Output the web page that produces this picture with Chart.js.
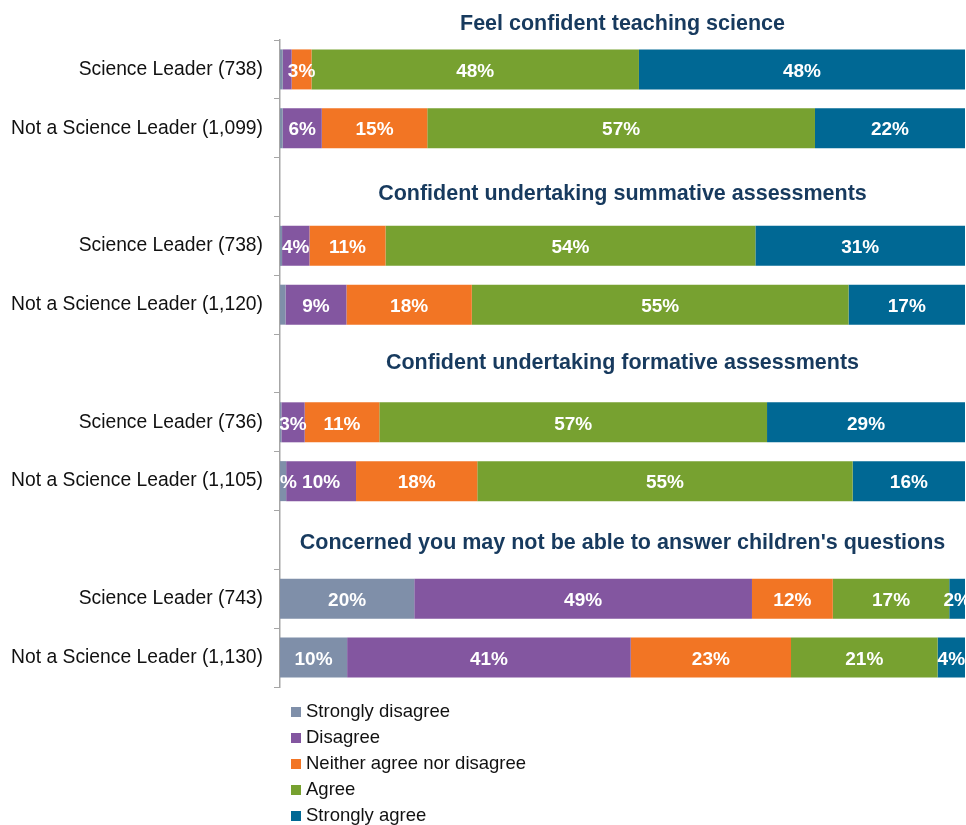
<!DOCTYPE html>
<html>
<head>
<meta charset="utf-8">
<script src="https://cdn.jsdelivr.net/npm/chart.js@4/dist/chart.umd.min.js"></script>
<style>
  html, body { margin: 0; padding: 0; background: #fff; }
  #wrap { position: relative; width: 966px; height: 825px; }
</style>
</head>
<body>
<div id="wrap"><canvas id="myBarChart"></canvas></div>
<script>
// rows of the chart; '' rows are the gaps that hold the section headings
const categories = [
  'Science Leader (738)', 'Not a Science Leader (1,099)', '',
  'Science Leader (738)', 'Not a Science Leader (1,120)', '',
  'Science Leader (736)', 'Not a Science Leader (1,105)', '',
  'Science Leader (743)', 'Not a Science Leader (1,130)'
];
const headings = [
  'Feel confident teaching science',
  'Confident undertaking summative assessments',
  'Confident undertaking formative assessments',
  "Concerned you may not be able to answer children's questions"
];
const headingRows = [-1, 2, 5, 8];

const seriesNames = ['Strongly disagree', 'Disagree', 'Neither agree nor disagree', 'Agree', 'Strongly agree'];
const stronglyDisagree = [0.4, 0.4, null, 0.3, 0.8, null, 0.2, 0.9, null, 19.6, 9.8];
const disagree         = [1.3, 5.7, null, 4.0, 8.9, null, 3.4, 10.2, null, 49.3, 41.4];
const neither          = [2.9, 15.4, null, 11.1, 18.3, null, 10.9, 17.7, null, 11.8, 23.4];
const agree            = [47.8, 56.6, null, 54.0, 55.0, null, 56.6, 54.8, null, 17.0, 21.4];
const stronglyAgree    = [47.6, 21.9, null, 30.6, 17.0, null, 28.9, 16.4, null, 2.3, 4.0];
const colors = ['#7f8fa9', '#8356a0', '#f27524', '#77a130', '#006894'];

// small values only get a label where the original shows one
const forcedLabels = [{ dataset: 0, index: 7 }];

const FONT = "'Liberation Sans', Arial, sans-serif";

const barLabels = {
  id: 'barLabels',
  afterDatasetsDraw(chart) {
    const ctx = chart.ctx;
    const area = chart.chartArea;
    ctx.save();
    ctx.beginPath();
    ctx.rect(area.left, area.top, area.right - area.left, area.bottom - area.top);
    ctx.clip();
    ctx.font = 'bold 19px ' + FONT;
    ctx.fillStyle = '#fff';
    ctx.textAlign = 'center';
    ctx.textBaseline = 'middle';
    chart.data.datasets.forEach((ds, di) => {
      const meta = chart.getDatasetMeta(di);
      meta.data.forEach((bar, i) => {
        const v = ds.data[i];
        if (v == null) return;
        const forced = forcedLabels.some(f => f.dataset === di && f.index === i);
        if (Math.round(v) < 2 && !forced) return;
        ctx.fillText(Math.round(v) + '%', (bar.x + bar.base) / 2, bar.y + 2);
      });
    });
    ctx.restore();
  }
};

const sectionHeadings = {
  id: 'sectionHeadings',
  afterDraw(chart) {
    const ctx = chart.ctx;
    const area = chart.chartArea;
    const yScale = chart.scales.y;
    const nudge = [0, 7, 0, 3];
    ctx.save();
    ctx.font = 'bold 21.5px ' + FONT;
    ctx.fillStyle = '#173a5e';
    ctx.textAlign = 'center';
    ctx.textBaseline = 'middle';
    headings.forEach((text, k) => {
      const row = headingRows[k];
      const y = row < 0 ? area.top - 16 : yScale.getPixelForValue(row) + nudge[k];
      ctx.fillText(text, (area.left + area.right) / 2, y);
    });
    ctx.restore();
  }
};

const listLegend = {
  id: 'listLegend',
  afterDraw(chart) {
    const ctx = chart.ctx;
    ctx.save();
    ctx.font = '18.5px ' + FONT;
    ctx.textAlign = 'left';
    ctx.textBaseline = 'middle';
    chart.data.datasets.forEach((ds, i) => {
      const y = 712 + i * 26;
      ctx.fillStyle = ds.backgroundColor;
      ctx.fillRect(291, y - 5, 10, 10);
      ctx.fillStyle = '#111';
      ctx.fillText(ds.label, 306, y);
    });
    ctx.restore();
  }
};

const seriesData = [stronglyDisagree, disagree, neither, agree, stronglyAgree];

const ctx = document.getElementById('myBarChart');
new Chart(ctx, {
  type: 'bar',
  data: {
    labels: categories,
    datasets: seriesNames.map((name, i) => ({
      label: name,
      data: seriesData[i],
      backgroundColor: colors[i],
      borderWidth: 0,
      barPercentage: 0.68,
      categoryPercentage: 1
    }))
  },
  options: {
    indexAxis: 'y',
    responsive: true,
    maintainAspectRatio: false,
    animation: false,
    layout: { padding: { top: 40, bottom: 138, right: 1, left: 0 } },
    plugins: {
      legend: { display: false },
      tooltip: { enabled: false }
    },
    scales: {
      x: {
        stacked: true,
        min: 0,
        max: 100,
        display: false
      },
      y: {
        stacked: true,
        afterFit(scale) { scale.width = 280; },
        grid: {
          drawOnChartArea: false,
          drawTicks: true,
          tickLength: 6,
          color: '#a6a6a6'
        },
        border: { display: true, color: '#a6a6a6', width: 1.5 },
        ticks: {
          color: '#111',
          padding: 11,
          font: { family: FONT, size: 19.3 }
        }
      }
    }
  },
  plugins: [barLabels, sectionHeadings, listLegend]
});
</script>
</body>
</html>
